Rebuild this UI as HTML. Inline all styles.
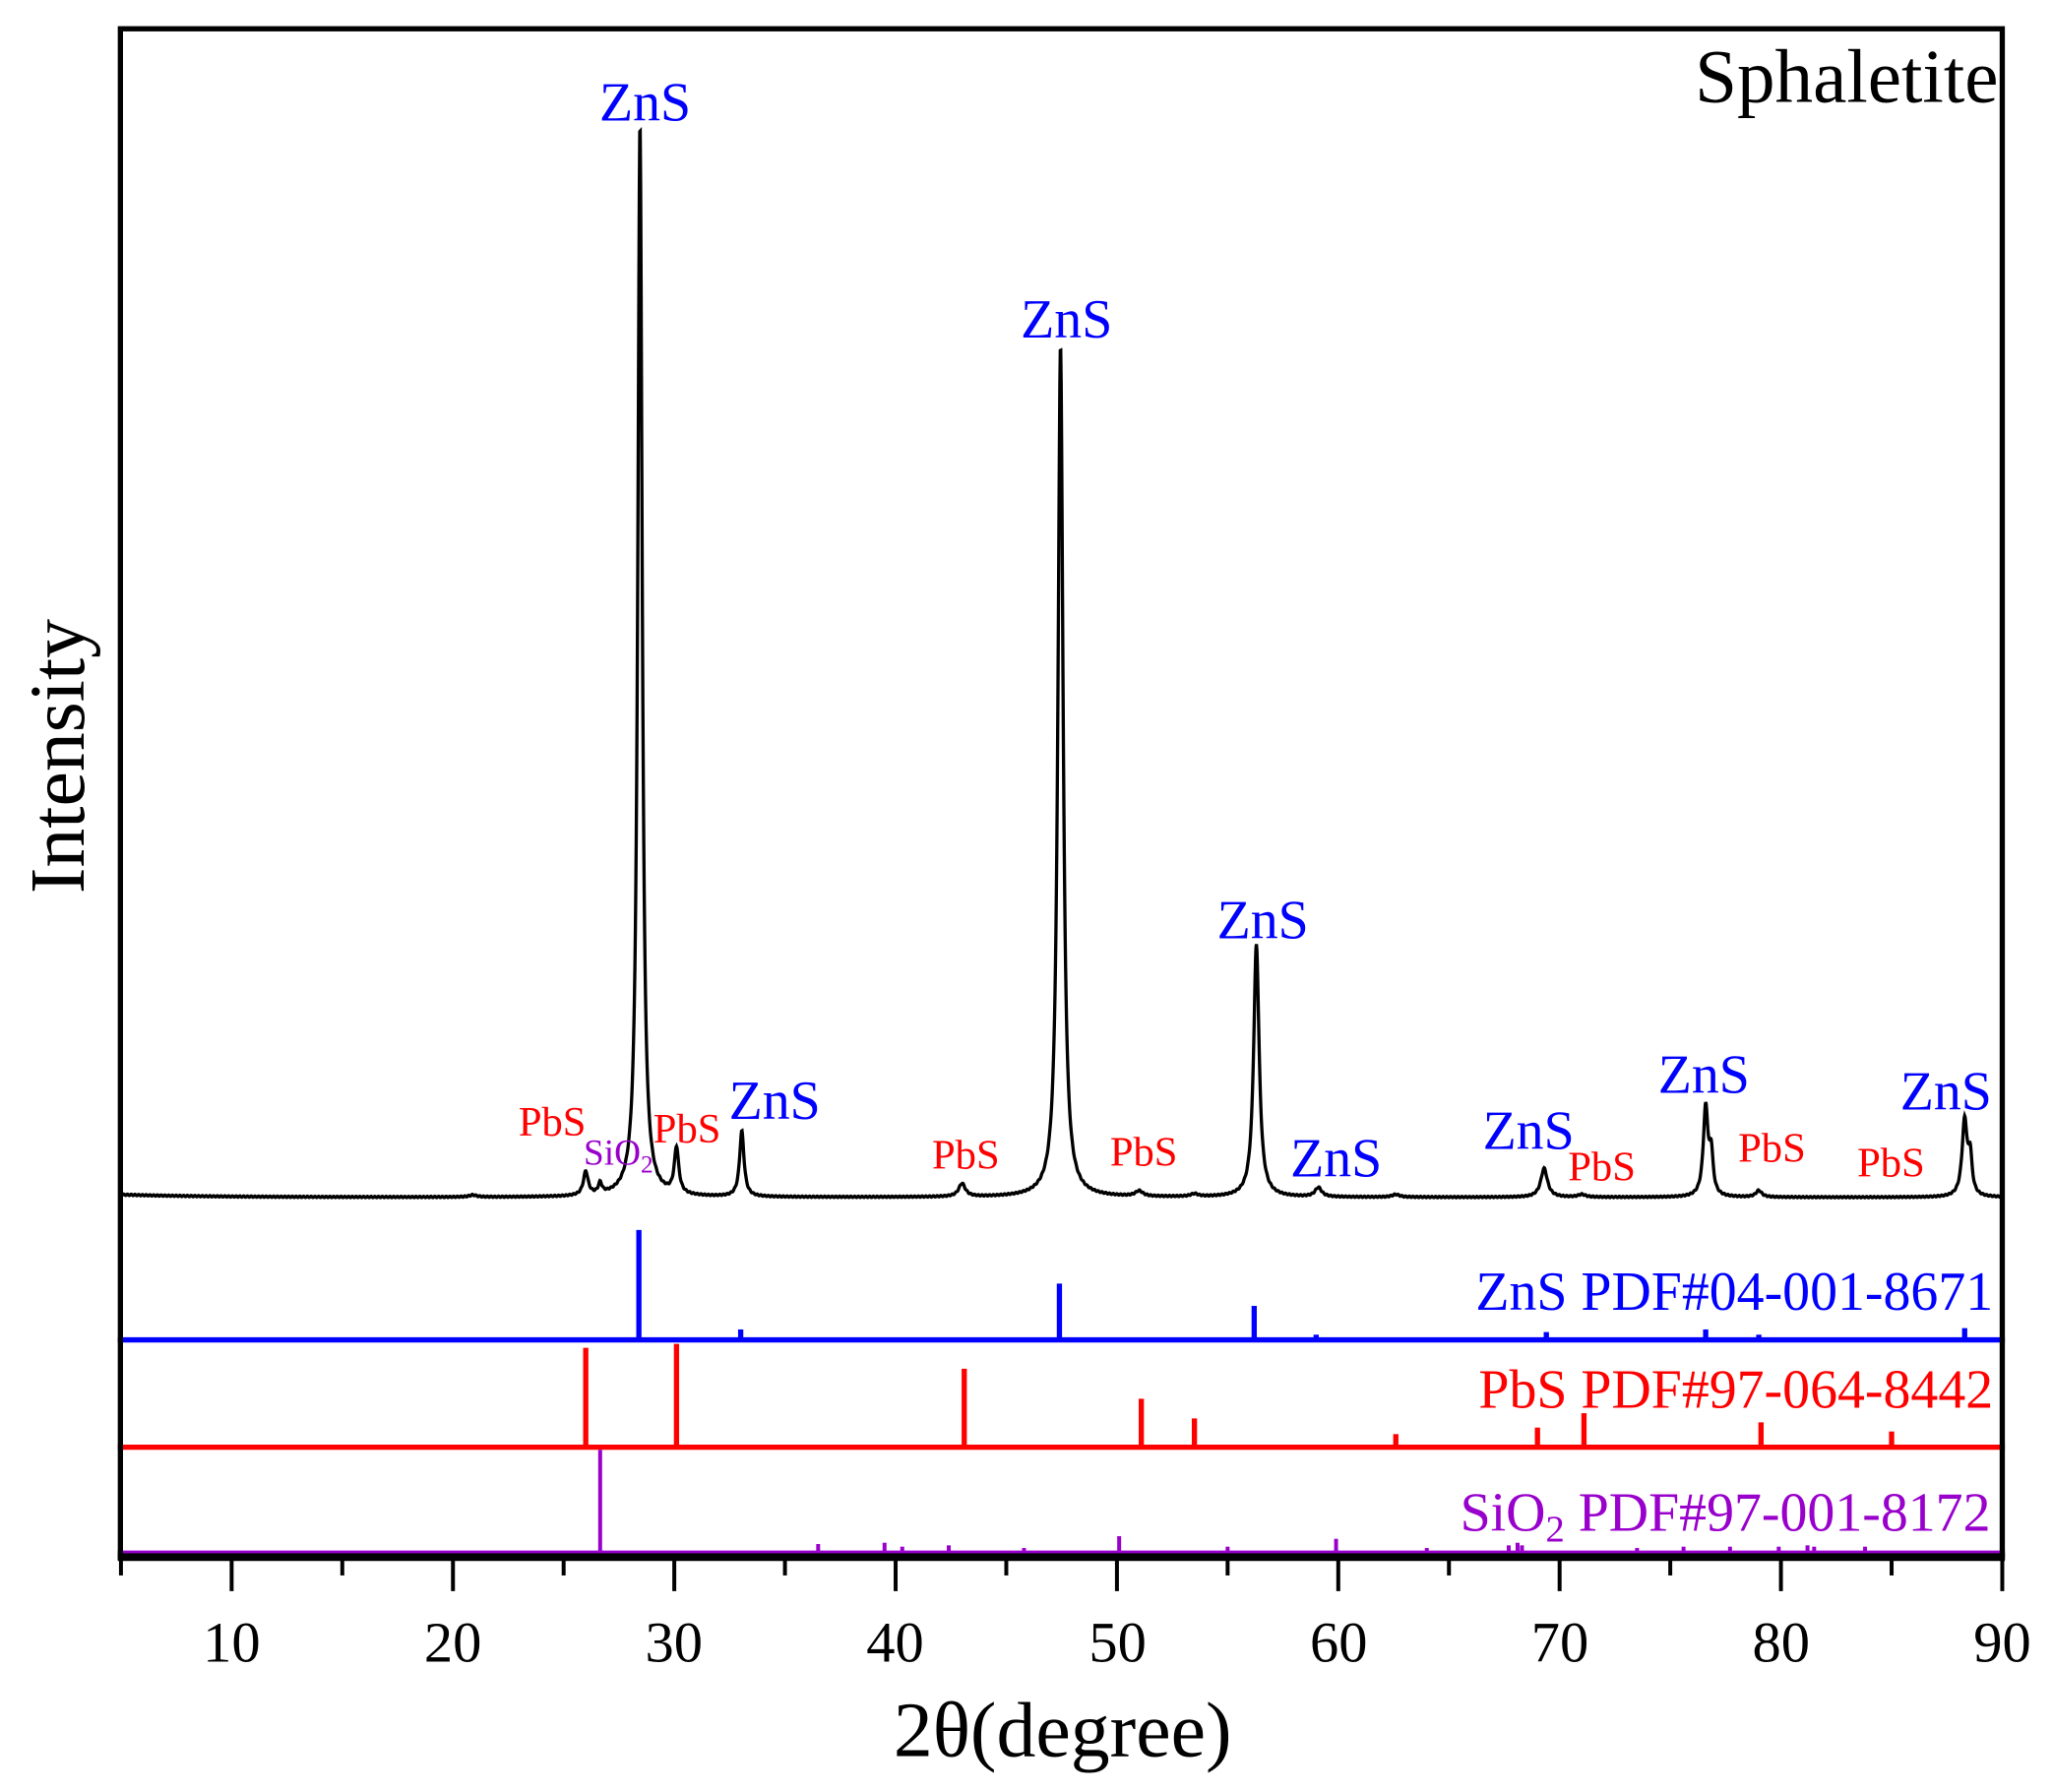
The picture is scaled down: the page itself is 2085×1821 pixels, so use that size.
<!DOCTYPE html>
<html><head><meta charset="utf-8"><style>html,body{margin:0;padding:0;background:#fff}svg{display:block}</style></head>
<body>
<svg id="s" width="2085" height="1821" viewBox="0 0 1568 1369.5" preserveAspectRatio="none" xmlns="http://www.w3.org/2000/svg" font-family="Liberation Serif, serif">
<rect width="1568" height="1369.5" fill="#fff"/>
<g id="data"></g>
<rect x="92" y="22" width="1438" height="1168" fill="none" stroke="#000" stroke-width="4"/>
<line x1="90" y1="1190" x2="1532" y2="1190" stroke="#000" stroke-width="6"/>
<g id="ticks" stroke="#000" stroke-width="3"></g>
<g font-size="44" text-anchor="middle" fill="#000">
<text x="177" y="1270">10</text><text x="346" y="1270">20</text><text x="515" y="1270">30</text><text x="684" y="1270">40</text><text x="854" y="1270">50</text><text x="1023" y="1270">60</text><text x="1192" y="1270">70</text><text x="1361" y="1270">80</text><text x="1530" y="1270">90</text>
</g>
<text x="812" y="1342" font-size="60" text-anchor="middle">2θ(degree)</text>
<text transform="translate(64,578) rotate(-90)" font-size="60" text-anchor="middle">Intensity</text>
<text x="1527" y="78" font-size="58" text-anchor="end">Sphaletite</text>
<g fill="#0000ff" font-size="42" text-anchor="middle">
<text x="493" y="92">ZnS</text><text x="815" y="258">ZnS</text><text x="965" y="717">ZnS</text><text x="592" y="855">ZnS</text><text x="1021" y="899">ZnS</text><text x="1168" y="878">ZnS</text><text x="1302" y="835">ZnS</text><text x="1487" y="848">ZnS</text>
<text x="1523" y="1001" font-size="42" text-anchor="end">ZnS PDF#04-001-8671</text>
</g>
<g fill="#ff0000" font-size="32" text-anchor="middle">
<text x="422" y="868">PbS</text><text x="525" y="873">PbS</text><text x="738" y="893">PbS</text><text x="874" y="891">PbS</text><text x="1224" y="902">PbS</text><text x="1354" y="888">PbS</text><text x="1445" y="899">PbS</text>
<text x="1523" y="1076" font-size="42" text-anchor="end">PbS PDF#97-064-8442</text>
</g>
<g fill="#9900cc">
<text x="446" y="890" font-size="28">SiO<tspan font-size="19" dy="6">2</tspan></text>
<text x="1521" y="1170" font-size="42" text-anchor="end">SiO<tspan font-size="29" dy="8">2</tspan><tspan dy="-8"> PDF#97-001-8172</tspan></text>
</g>
</svg>
<script>
var X=function(t){return 177+(t-10)*16.9125;};
var ns="http://www.w3.org/2000/svg";
var g=document.getElementById('data');
function el(n,a){var e=document.createElementNS(ns,n);for(var k in a)e.setAttribute(k,a[k]);g.appendChild(e);return e;}
var base=915;
var peaks=[[28.45,820,0.12],[47.45,650,0.14],[56.3,193,0.15],[33.05,50,0.12],[30.1,35,0.12],[26.0,18,0.13],[26.65,8,0.1],[76.6,68,0.13],[76.85,30,0.1],[88.3,58,0.14],[88.55,28,0.1],[69.3,22,0.18],[43.0,10,0.18],[59.1,7,0.18],[79.0,5,0.16],[51.0,4,0.2],[53.5,2,0.2],[62.6,2,0.2],[20.9,1.5,0.2],[71.0,2,0.2]];
var d="";
for(var t=5;t<=90;t+=0.02){var y=0;for(var i=0;i<peaks.length;i++){var p=peaks[i],u=(t-p[0])/p[2];y+=p[1]/(1+u*u);}
y+=2*Math.exp(-(t-5)/4)+ (Math.sin(t*37.1)*0.5);
d+=(d?"L":"M")+X(t).toFixed(2)+" "+(base-y).toFixed(2);}
el('path',{d:d,fill:'none',stroke:'#000','stroke-width':2.5});
function sticks(col,b,list,w){list.forEach(function(s){el('line',{x1:X(s[0]),x2:X(s[0]),y1:b,y2:s[1],stroke:col,'stroke-width':w});});
el('line',{x1:90,x2:1532,y1:b,y2:b,stroke:col,'stroke-width':4});}
sticks('#0000ff',1024,[[28.4,940],[33.0,1016],[47.4,981],[56.2,998],[59.0,1020],[69.4,1018],[76.6,1016],[79.0,1020],[88.3,1015]],4);
sticks('#ff0000',1106,[[26.0,1030],[30.1,1027],[43.1,1046],[51.1,1069],[53.5,1084],[62.6,1096],[69.0,1091],[71.1,1080],[79.1,1087],[85.0,1094]],4);
sticks('#9900cc',1187,[[26.65,1108],[36.5,1180],[39.5,1179],[40.3,1182],[42.4,1181],[45.8,1183],[50.1,1174],[55.0,1182],[59.9,1176],[64.0,1183],[67.7,1181],[68.1,1179],[68.3,1181],[73.5,1183],[75.6,1182],[77.7,1182],[79.9,1182],[81.2,1181],[81.5,1182],[83.8,1182]],3);
var tk=document.getElementById('ticks');
for(var v=5;v<=90;v+=5){var l=document.createElementNS(ns,'line');var x=X(v);l.setAttribute('x1',x);l.setAttribute('x2',x);l.setAttribute('y1',1190);l.setAttribute('y2',v%10==0?1216:1204);tk.appendChild(l);}
</script>
</body></html>
